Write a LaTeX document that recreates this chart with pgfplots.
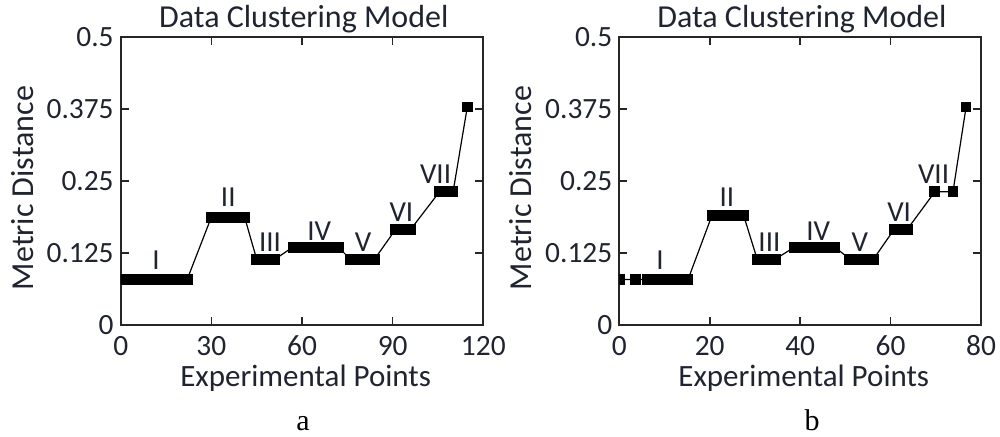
\documentclass[border=0pt]{standalone}
\usepackage{fontspec}
\setmainfont{Carlito}
\newfontfamily\seriffont{Liberation Serif}
\usepackage{pgfplots}
\pgfplotsset{compat=1.18}
\definecolor{txt}{RGB}{32,36,48}
\newcommand\tl{\fontsize{14.7}{17}\selectfont}
\tikzset{num/.style={font=\fontsize{14.5}{16}\selectfont, text=txt, anchor=base, inner sep=0pt}}
\pgfplotsset{
  every axis title/.style={at={(axis description cs:0.505,1)}, anchor=base, yshift=4.7pt, font=\fontsize{16}{18}\selectfont, text=txt},
  clus/.style={
  scale only axis, height=144.2pt,
  anchor=south west,
  clip marker paths=true,
  ymin=0, ymax=0.5,
  ytick={0,0.125,0.25,0.375,0.5},
  yticklabels={{\tl 0},{\tl 0.125},{\tl 0.25},{\tl 0.375},{\tl 0.5}},
  tick align=inside, major tick length=4pt,
  axis line style={line width=0.9pt, black!85},
  every tick/.append style={line width=0.8pt, black!85},
  /pgf/number format/assume math mode=true,
  xticklabel style={anchor=base, yshift=-15pt, text=txt},
  yticklabel style={text=txt},
  title={Data Clustering Model},
  xlabel={Experimental Points},
  xlabel style={at={(axis description cs:0.51,0)}, anchor=base, yshift=-30.8pt, font=\fontsize{15.5}{18}\selectfont, text=txt},
  ylabel={Metric Distance},
  ylabel style={anchor=base, font=\fontsize{16}{18}\selectfont, text=txt},
},
  dat/.style={black, line width=0.6pt, mark=square*, mark size=2.4pt, mark options={solid, fill=black, draw=black}},
}
\begin{document}
\begin{tikzpicture}
\path[use as bounding box] (0,0) rectangle (500pt,218pt);
\begin{axis}[clus, at={(60.35pt,55.5pt)}, width=181.3pt,
  xmin=0, xmax=120, xtick={0,30,60,90,120},
  xticklabels={{\tl 0},{\tl 30},{\tl 60},{\tl 90},{\tl 120}},
  ylabel style={at={(axis description cs:-0.241,0.475)}}]
\addplot[dat] coordinates {
(1,0.079)(2,0.079)(3,0.079)(4,0.079)(5,0.079)(6,0.079)(7,0.079)(8,0.079)(9,0.079)(10,0.079)(11,0.079)
(12,0.079)(13,0.079)(14,0.079)(15,0.079)(16,0.079)(17,0.079)(18,0.079)(19,0.079)(20,0.079)(21,0.079)(22,0.079)
(30,0.187)(31,0.187)(32,0.187)(33,0.187)(34,0.187)(35,0.187)(36,0.187)(37,0.187)(38,0.187)(39,0.187)(40,0.187)(41,0.187)
(45,0.114)(46,0.114)(47,0.114)(48,0.114)(49,0.114)(50,0.114)(51,0.114)
(57,0.135)(58,0.135)(59,0.135)(60,0.135)(61,0.135)(62,0.135)(63,0.135)(64,0.135)(65,0.135)(66,0.135)(67,0.135)(68,0.135)(69,0.135)(70,0.135)(71,0.135)(72,0.135)
(76,0.114)(77,0.114)(78,0.114)(79,0.114)(80,0.114)(81,0.114)(82,0.114)(83,0.114)(84,0.114)
(91,0.166)(92,0.166)(93,0.166)(94,0.166)(95,0.166)(96,0.166)
(105.5,0.231)(106.5,0.231)(107.5,0.231)(108.5,0.231)(109.5,0.231)(110,0.231)
(114.7,0.378)
};
\node[num] at (axis cs:11.7,0.0954) {I};
\node[num] at (axis cs:35.6,0.205) {II};
\node[num] at (axis cs:49.4,0.127) {III};
\node[num] at (axis cs:65.7,0.147) {IV};
\node[num] at (axis cs:80.2,0.127) {V};
\node[num] at (axis cs:92.9,0.179) {VI};
\node[num] at (axis cs:104.2,0.2445) {VII};
\end{axis}
\begin{axis}[clus, at={(309.65pt,55.5pt)}, width=180.85pt,
  xmin=0, xmax=80, xtick={0,20,40,60,80},
  xticklabels={{\tl 0},{\tl 20},{\tl 40},{\tl 60},{\tl 80}},
  ylabel style={at={(axis description cs:-0.242,0.475)}}]
\addplot[dat] coordinates {
(0,0.079)(3.5,0.079)
(6.2,0.079)(7.2,0.079)(8.2,0.079)(9.2,0.079)(10.2,0.079)(11.2,0.079)(12.2,0.079)(13.2,0.079)(14.2,0.079)(15.2,0.079)
(20.5,0.19)(21.5,0.19)(22.5,0.19)(23.5,0.19)(24.5,0.19)(25.5,0.19)(26.5,0.19)(27.5,0.19)
(30.5,0.114)(31.5,0.114)(32.5,0.114)(33.5,0.114)(34.5,0.114)
(38.7,0.135)(39.7,0.135)(40.7,0.135)(41.7,0.135)(42.7,0.135)(43.7,0.135)(44.7,0.135)(45.7,0.135)(46.7,0.135)(47.7,0.135)
(51,0.114)(52,0.114)(53,0.114)(54,0.114)(55,0.114)(56.2,0.114)
(60.8,0.166)(61.8,0.166)(62.8,0.166)(63.7,0.166)
(69.8,0.231)(73.8,0.231)
(76.7,0.378)
};
\node[num] at (axis cs:9.0,0.0954) {I};
\node[num] at (axis cs:23.8,0.206) {II};
\node[num] at (axis cs:33.2,0.127) {III};
\node[num] at (axis cs:44.0,0.147) {IV};
\node[num] at (axis cs:53.2,0.127) {V};
\node[num] at (axis cs:61.9,0.179) {VI};
\node[num] at (axis cs:69.5,0.246) {VII};
\end{axis}
\node[anchor=base, font=\seriffont\fontsize{15}{18}\selectfont] at (151.5pt,2.8pt) {a};
\node[anchor=base, font=\seriffont\fontsize{15}{18}\selectfont] at (406pt,2.8pt) {b};
\end{tikzpicture}
\end{document}
